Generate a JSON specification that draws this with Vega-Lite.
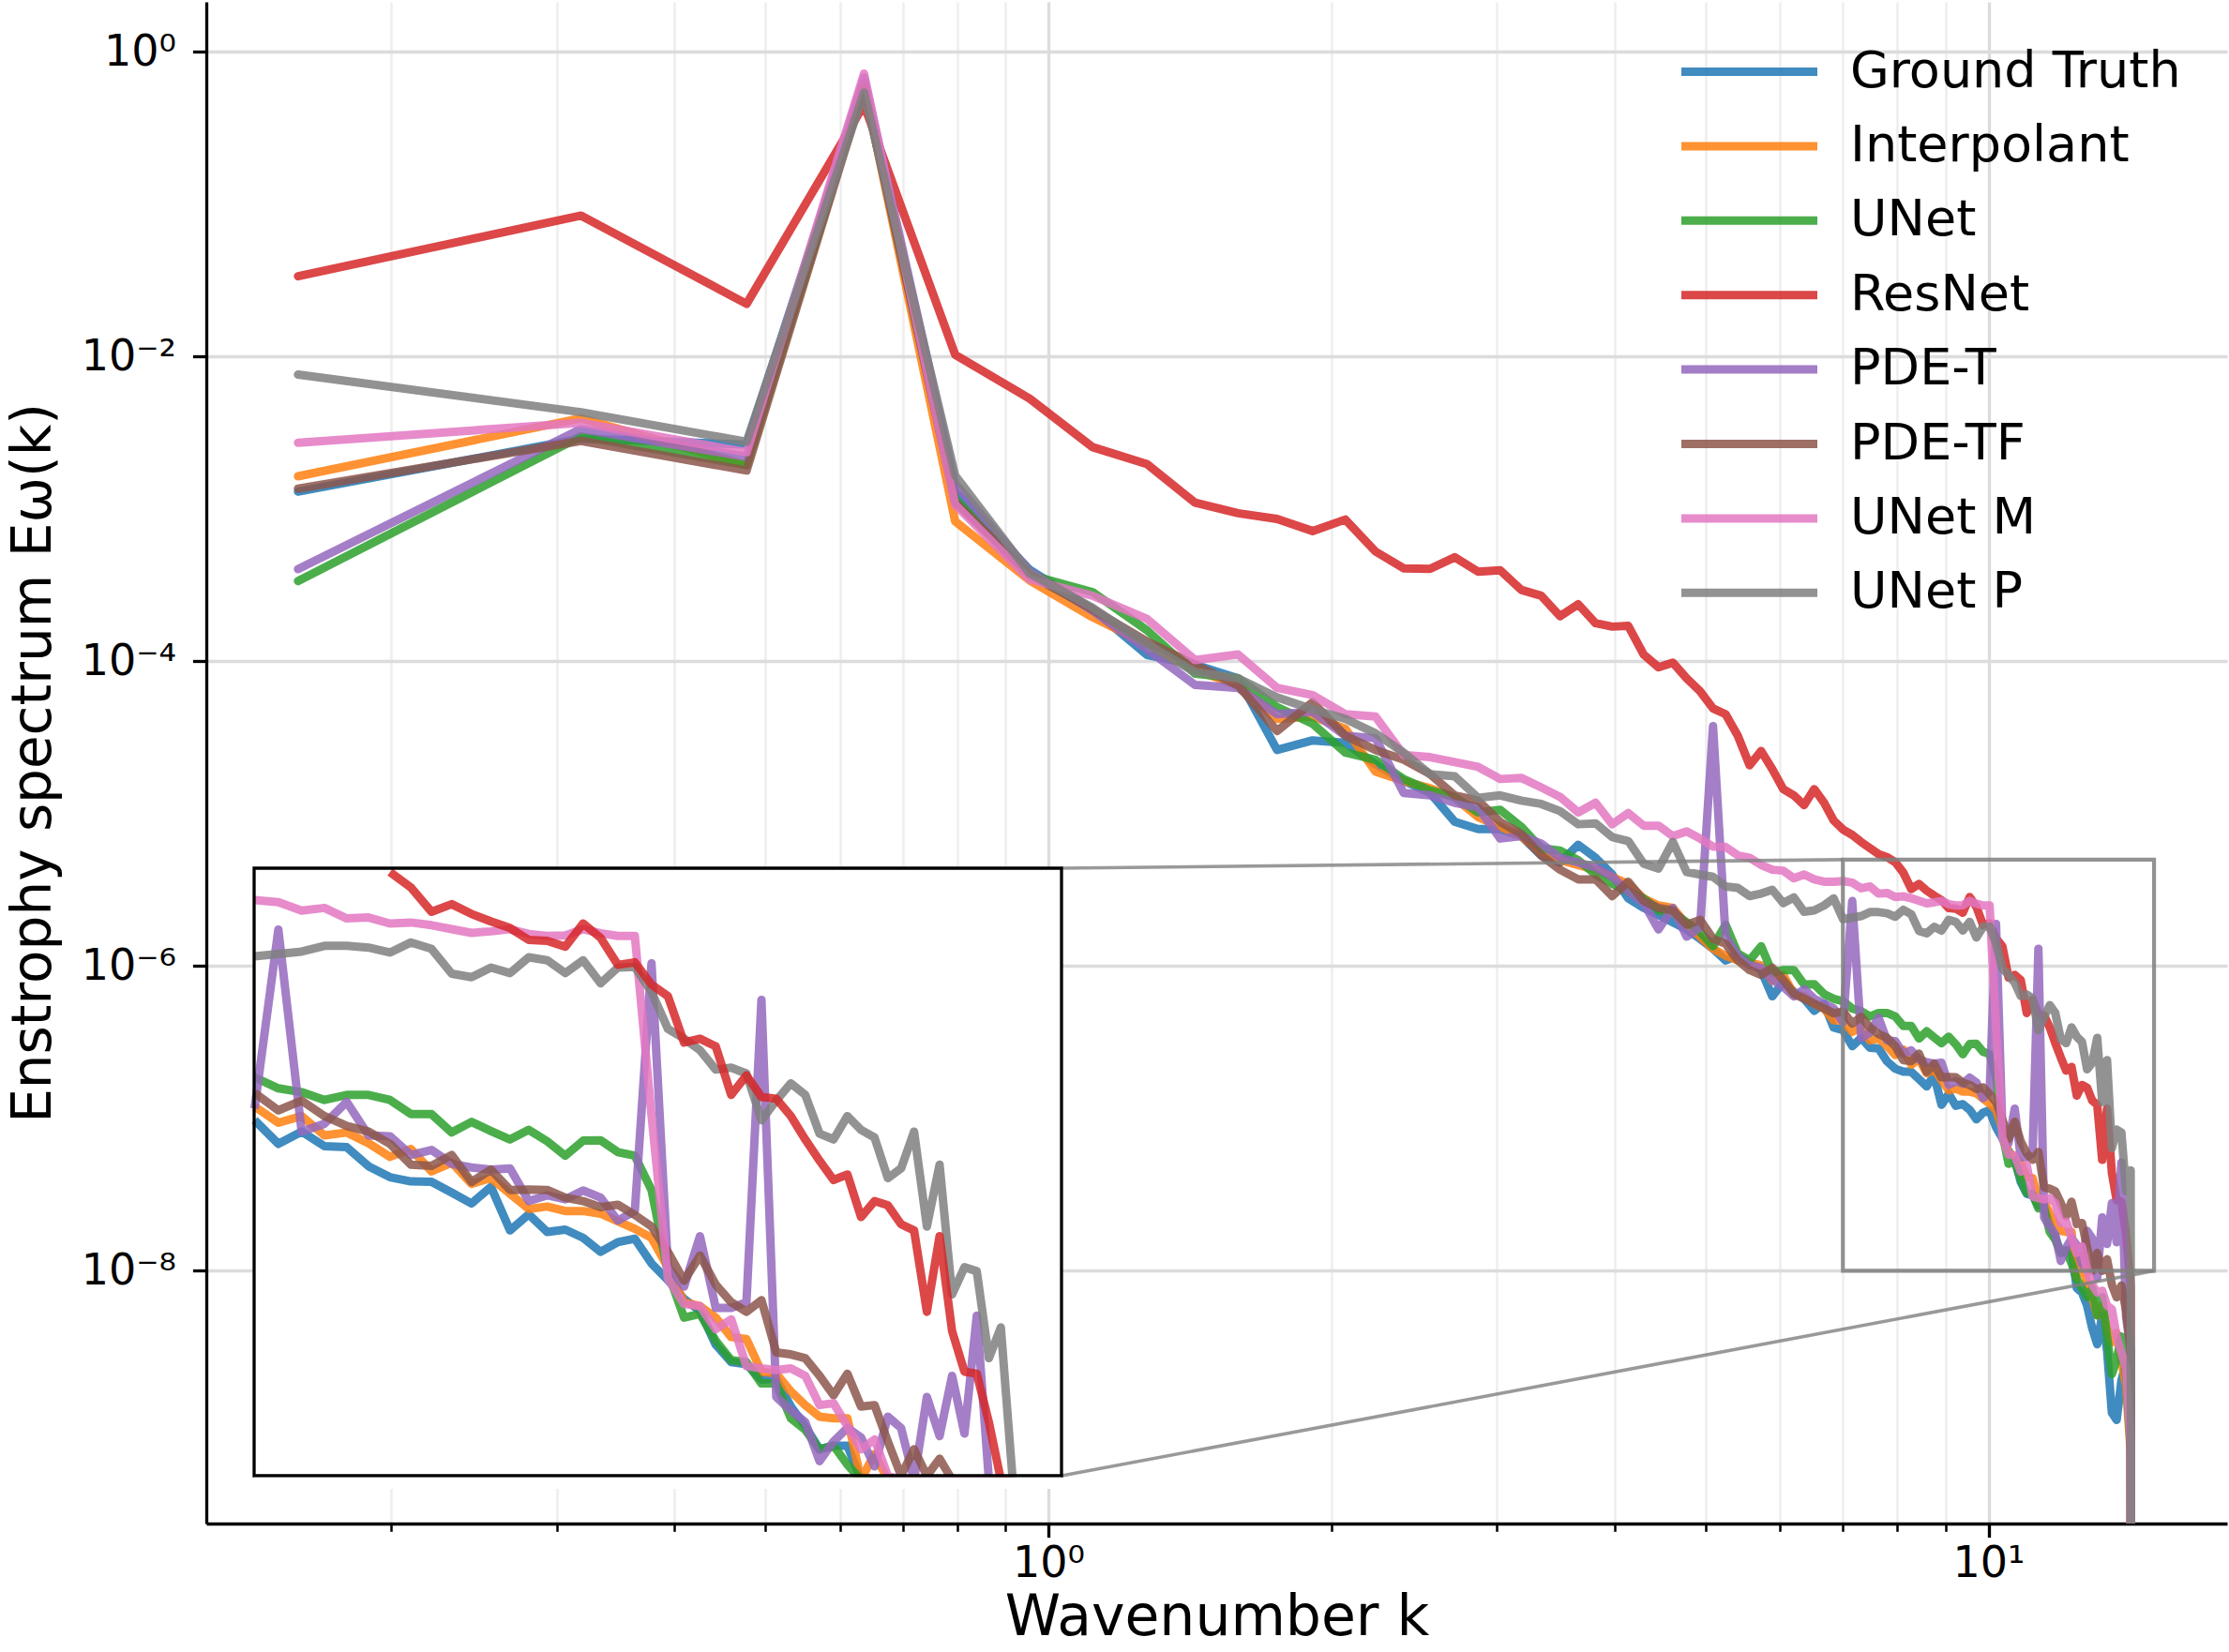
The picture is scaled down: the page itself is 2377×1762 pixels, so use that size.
{
"$schema": "https://vega.github.io/schema/vega-lite/v6.json",
"width": 2155, "height": 1623,
"autosize": {"type": "none"},
"padding": {"left": 220, "top": 2, "right": 2, "bottom": 137},
"background": "white",
"config": {"view": {"stroke": null}, "font": "DejaVu Sans"},
"datasets": {
"spec": [
{"k":0.15915,"Ground Truth":1.3e-3,"Interpolant":1.64e-3,"UNet":3.37e-4,"ResNet":0.0337,"PDE-T":4.03e-4,"PDE-TF":1.36e-3,"UNet M":2.72e-3,"UNet P":7.62e-3},
{"k":0.31831,"Ground Truth":2.9e-3,"Interpolant":3.94e-3,"UNet":3.0e-3,"ResNet":0.0843,"PDE-T":3.35e-3,"PDE-TF":2.8e-3,"UNet M":3.68e-3,"UNet P":4.32e-3},
{"k":0.47746,"Ground Truth":2.65e-3,"Interpolant":1.94e-3,"UNet":1.94e-3,"ResNet":0.0222,"PDE-T":2.2e-3,"PDE-TF":1.79e-3,"UNet M":2.36e-3,"UNet P":2.76e-3},
{"k":0.63662,"Ground Truth":0.63,"Interpolant":0.6,"UNet":0.6,"ResNet":0.45,"PDE-T":0.68,"PDE-TF":0.58,"UNet M":0.72,"UNet P":0.54},
{"k":0.79577,"Ground Truth":1.3e-3,"Interpolant":8.3e-4,"UNet":1.16e-3,"ResNet":0.0103,"PDE-T":1.47e-3,"PDE-TF":1.11e-3,"UNet M":1.07e-3,"UNet P":1.66e-3},
{"k":0.95493,"Ground Truth":4.0e-4,"Interpolant":3.4e-4,"UNet":3.7e-4,"ResNet":5.31e-3,"PDE-T":3.9e-4,"PDE-TF":3.7e-4,"UNet M":3.45e-4,"UNet P":3.8e-4},
{"k":1.1141,"Ground Truth":2.2e-4,"Interpolant":1.95e-4,"UNet":2.85e-4,"ResNet":2.55e-3,"PDE-T":2.15e-4,"PDE-TF":2.2e-4,"UNet M":2.7e-4,"UNet P":2.25e-4},
{"k":1.2732,"Ground Truth":1.1e-4,"Interpolant":1.3e-4,"UNet":1.6e-4,"ResNet":1.97e-3,"PDE-T":1.2e-4,"PDE-TF":1.35e-4,"UNet M":1.9e-4,"UNet P":1.3e-4},
{"k":1.4324,"Ground Truth":9.5e-5,"Interpolant":8.8e-5,"UNet":8.3e-5,"ResNet":1.1e-3,"PDE-T":7.0e-5,"PDE-TF":9.5e-5,"UNet M":1.02e-4,"UNet P":8.5e-5},
{"k":1.5915,"Ground Truth":7.74e-5,"Interpolant":6.95e-5,"UNet":7.74e-5,"ResNet":9.38e-4,"PDE-T":6.7e-5,"PDE-TF":6.95e-5,"UNet M":1.11e-4,"UNet P":7.74e-5},
{"k":1.7507,"Ground Truth":2.62e-5,"Interpolant":4.19e-5,"UNet":5.01e-5,"ResNet":8.6e-4,"PDE-T":4.5e-5,"PDE-TF":3.49e-5,"UNet M":6.7e-5,"UNet P":5.8e-5},
{"k":1.9099,"Ground Truth":3.03e-5,"Interpolant":4.34e-5,"UNet":3.9e-5,"ResNet":7.17e-4,"PDE-T":4.66e-5,"PDE-TF":5.4e-5,"UNet M":6.0e-5,"UNet P":4.84e-5},
{"k":2.069,"Ground Truth":2.92e-5,"Interpolant":3.62e-5,"UNet":2.52e-5,"ResNet":8.53e-4,"PDE-T":3.25e-5,"PDE-TF":3.25e-5,"UNet M":4.5e-5,"UNet P":4.19e-5},
{"k":2.2282,"Ground Truth":2.11e-5,"Interpolant":1.89e-5,"UNet":2.26e-5,"ResNet":5.26e-4,"PDE-T":3.13e-5,"PDE-TF":2.62e-5,"UNet M":4.34e-5,"UNet P":3.37e-5},
{"k":2.3873,"Ground Truth":1.64e-5,"Interpolant":1.64e-5,"UNet":1.69e-5,"ResNet":4.08e-4,"PDE-T":1.37e-5,"PDE-TF":2.26e-5,"UNet M":2.43e-5,"UNet P":2.52e-5},
{"k":2.5465,"Ground Truth":1.37e-5,"Interpolant":1.47e-5,"UNet":1.42e-5,"ResNet":4.05e-4,"PDE-T":1.32e-5,"PDE-TF":1.82e-5,"UNet M":2.35e-5,"UNet P":1.82e-5},
{"k":2.7056,"Ground Truth":8.85e-6,"Interpolant":1.27e-5,"UNet":1.29e-5,"ResNet":4.82e-4,"PDE-T":1.18e-5,"PDE-TF":1.32e-5,"UNet M":2.18e-5,"UNet P":1.76e-5},
{"k":2.8648,"Ground Truth":7.94e-6,"Interpolant":9.5e-6,"UNet":1.02e-5,"ResNet":3.88e-4,"PDE-T":1.1e-5,"PDE-TF":1.22e-5,"UNet M":2.03e-5,"UNet P":1.27e-5},
{"k":3.0239,"Ground Truth":7.94e-6,"Interpolant":8.23e-6,"UNet":1.06e-5,"ResNet":3.96e-4,"PDE-T":6.87e-6,"PDE-TF":8.85e-6,"UNet M":1.69e-5,"UNet P":1.32e-5},
{"k":3.1831,"Ground Truth":7.13e-6,"Interpolant":7.13e-6,"UNet":8.23e-6,"ResNet":2.95e-4,"PDE-T":7.13e-6,"PDE-TF":7.38e-6,"UNet M":1.72e-5,"UNet P":1.22e-5},
{"k":3.3423,"Ground Truth":5.33e-6,"Interpolant":5.53e-6,"UNet":5.94e-6,"ResNet":2.7e-4,"PDE-T":6.38e-6,"PDE-TF":5.33e-6,"UNet M":1.49e-5,"UNet P":1.16e-5},
{"k":3.5014,"Ground Truth":4.78e-6,"Interpolant":4.96e-6,"UNet":5.73e-6,"ResNet":1.98e-4,"PDE-T":5.14e-6,"PDE-TF":4.29e-6,"UNet M":1.29e-5,"UNet P":1.04e-5},
{"k":3.6606,"Ground Truth":6.25e-6,"Interpolant":4.61e-6,"UNet":4.96e-6,"ResNet":2.37e-4,"PDE-T":4.78e-6,"PDE-TF":3.71e-6,"UNet M":1.02e-5,"UNet P":8.53e-6},
{"k":3.8197,"Ground Truth":5.14e-6,"Interpolant":4.29e-6,"UNet":3.99e-6,"ResNet":1.78e-4,"PDE-T":4.45e-6,"PDE-TF":3.71e-6,"UNet M":1.18e-5,"UNet P":8.65e-6},
{"k":3.9789,"Ground Truth":3.99e-6,"Interpolant":3.85e-6,"UNet":3.46e-6,"ResNet":1.69e-4,"PDE-T":3.85e-6,"PDE-TF":2.88e-6,"UNet M":8.53e-6,"UNet P":7.02e-6},
{"k":4.138,"Ground Truth":2.78e-6,"Interpolant":3.46e-6,"UNet":3.1e-6,"ResNet":1.71e-4,"PDE-T":3.1e-6,"PDE-TF":3.58e-6,"UNet M":1.01e-5,"UNet P":6.62e-6},
{"k":4.2972,"Ground Truth":2.41e-6,"Interpolant":2.78e-6,"UNet":2.78e-6,"ResNet":1.11e-4,"PDE-T":2.59e-6,"PDE-TF":2.68e-6,"UNet M":8.35e-6,"UNet P":4.69e-6},
{"k":4.4563,"Ground Truth":2.16e-6,"Interpolant":2.5e-6,"UNet":2.32e-6,"ResNet":9.14e-5,"PDE-T":1.74e-6,"PDE-TF":2.41e-6,"UNet M":8.35e-6,"UNet P":4.36e-6},
{"k":4.6155,"Ground Truth":1.94e-6,"Interpolant":2.41e-6,"UNet":2.24e-6,"ResNet":9.82e-5,"PDE-T":2.41e-6,"PDE-TF":2.32e-6,"UNet M":7.13e-6,"UNet P":6.53e-6},
{"k":4.7746,"Ground Truth":1.74e-6,"Interpolant":1.87e-6,"UNet":1.94e-6,"ResNet":7.74e-5,"PDE-T":1.56e-6,"PDE-TF":1.87e-6,"UNet M":7.66e-6,"UNet P":4.14e-6},
{"k":4.9338,"Ground Truth":1.51e-6,"Interpolant":1.56e-6,"UNet":1.68e-6,"ResNet":6.37e-5,"PDE-T":1.8e-6,"PDE-TF":2.01e-6,"UNet M":6.87e-6,"UNet P":3.99e-6},
{"k":5.093,"Ground Truth":1.3e-6,"Interpolant":1.3e-6,"UNet":1.35e-6,"ResNet":4.91e-5,"PDE-T":3.76e-5,"PDE-TF":1.51e-6,"UNet M":6.08e-6,"UNet P":3.85e-6},
{"k":5.2521,"Ground Truth":1.09e-6,"Interpolant":1.17e-6,"UNet":1.87e-6,"ResNet":4.5e-5,"PDE-T":1.56e-6,"PDE-TF":1.4e-6,"UNet M":6.05e-6,"UNet P":3.33e-6},
{"k":5.4113,"Ground Truth":1.17e-6,"Interpolant":1.09e-6,"UNet":1.21e-6,"ResNet":3.25e-5,"PDE-T":1.17e-6,"PDE-TF":1.09e-6,"UNet M":5.33e-6,"UNet P":3.26e-6},
{"k":5.5704,"Ground Truth":1.05e-6,"Interpolant":1.05e-6,"UNet":1.09e-6,"ResNet":2.08e-5,"PDE-T":1.01e-6,"PDE-TF":9.41e-7,"UNet M":5.14e-6,"UNet P":2.88e-6},
{"k":5.7296,"Ground Truth":9.41e-7,"Interpolant":1.01e-6,"UNet":1.35e-6,"ResNet":2.58e-5,"PDE-T":9.75e-7,"PDE-TF":8.75e-7,"UNet M":4.61e-6,"UNet P":2.99e-6},
{"k":5.8887,"Ground Truth":6.33e-7,"Interpolant":8.02e-7,"UNet":9.08e-7,"ResNet":1.96e-5,"PDE-T":8.14e-7,"PDE-TF":9.75e-7,"UNet M":4.29e-6,"UNet P":3.17e-6},
{"k":6.0479,"Ground Truth":7.85e-7,"Interpolant":8.75e-7,"UNet":9.41e-7,"ResNet":1.45e-5,"PDE-T":7.31e-7,"PDE-TF":8.14e-7,"UNet M":4.23e-6,"UNet P":2.59e-6},
{"k":6.207,"Ground Truth":6.8e-7,"Interpolant":6.56e-7,"UNet":9.41e-7,"ResNet":1.32e-5,"PDE-T":6.33e-7,"PDE-TF":6.56e-7,"UNet M":3.77e-6,"UNet P":2.82e-6},
{"k":6.3662,"Ground Truth":6.1e-7,"Interpolant":6.33e-7,"UNet":7.57e-7,"ResNet":1.14e-5,"PDE-T":7.05e-7,"PDE-TF":6.1e-7,"UNet M":3.99e-6,"UNet P":2.27e-6},
{"k":6.5254,"Ground Truth":5.09e-7,"Interpolant":5.67e-7,"UNet":7.6e-7,"ResNet":1.45e-5,"PDE-T":6.1e-7,"PDE-TF":5.67e-7,"UNet M":3.71e-6,"UNet P":2.32e-6},
{"k":6.6845,"Ground Truth":5.67e-7,"Interpolant":5.27e-7,"UNet":6.56e-7,"ResNet":1.18e-5,"PDE-T":5.67e-7,"PDE-TF":5.27e-7,"UNet M":3.58e-6,"UNet P":2.5e-6},
{"k":6.8437,"Ground Truth":3.95e-7,"Interpolant":4.4e-7,"UNet":6.1e-7,"ResNet":9.03e-6,"PDE-T":5.27e-7,"PDE-TF":4.91e-7,"UNet M":3.58e-6,"UNet P":2.78e-6},
{"k":7.0028,"Ground Truth":3.8e-7,"Interpolant":4.37e-7,"UNet":5.89e-7,"ResNet":7.87e-6,"PDE-T":4.28e-7,"PDE-TF":5.02e-7,"UNet M":3.61e-6,"UNet P":2.03e-6},
{"k":7.162,"Ground Truth":2.98e-7,"Interpolant":3.7e-7,"UNet":5.26e-7,"ResNet":7.26e-6,"PDE-T":2.67e-6,"PDE-TF":4.2e-7,"UNet M":3.53e-6,"UNet P":2.08e-6},
{"k":7.3211,"Ground Truth":3.38e-7,"Interpolant":3.96e-7,"UNet":5.06e-7,"ResNet":6.52e-6,"PDE-T":3.38e-7,"PDE-TF":4.64e-7,"UNet M":3.24e-6,"UNet P":2.13e-6},
{"k":7.4803,"Ground Truth":2.91e-7,"Interpolant":3.25e-7,"UNet":4.67e-7,"ResNet":5.94e-6,"PDE-T":3.66e-7,"PDE-TF":3.96e-7,"UNet M":3.33e-6,"UNet P":2.26e-6},
{"k":7.6394,"Ground Truth":2.88e-7,"Interpolant":3.35e-7,"UNet":4.92e-7,"ResNet":5.43e-6,"PDE-T":4.58e-7,"PDE-TF":3.58e-7,"UNet M":2.99e-6,"UNet P":2.26e-6},
{"k":7.7986,"Ground Truth":2.37e-7,"Interpolant":3.0e-7,"UNet":4.92e-7,"ResNet":5.19e-6,"PDE-T":3.25e-7,"PDE-TF":3.38e-7,"UNet M":3.02e-6,"UNet P":2.22e-6},
{"k":7.9577,"Ground Truth":2.12e-7,"Interpolant":2.61e-7,"UNet":4.67e-7,"ResNet":4.81e-6,"PDE-T":3.22e-7,"PDE-TF":2.98e-7,"UNet M":2.84e-6,"UNet P":2.11e-6},
{"k":8.1169,"Ground Truth":2.03e-7,"Interpolant":2.83e-7,"UNet":4.04e-7,"ResNet":4.1e-6,"PDE-T":2.66e-7,"PDE-TF":2.41e-7,"UNet M":2.87e-6,"UNet P":2.34e-6},
{"k":8.2761,"Ground Truth":2.02e-7,"Interpolant":2.25e-7,"UNet":4.04e-7,"ResNet":3.2e-6,"PDE-T":2.8e-7,"PDE-TF":2.38e-7,"UNet M":2.79e-6,"UNet P":2.19e-6},
{"k":8.4352,"Ground Truth":1.81e-7,"Interpolant":2.46e-7,"UNet":3.35e-7,"ResNet":3.46e-6,"PDE-T":2.43e-7,"PDE-TF":2.66e-7,"UNet M":2.68e-6,"UNet P":1.7e-6},
{"k":8.5944,"Ground Truth":1.62e-7,"Interpolant":1.98e-7,"UNet":3.73e-7,"ResNet":3.13e-6,"PDE-T":2.34e-7,"PDE-TF":2.02e-7,"UNet M":2.58e-6,"UNet P":1.64e-6},
{"k":8.7535,"Ground Truth":1.92e-7,"Interpolant":2.1e-7,"UNet":3.4e-7,"ResNet":2.9e-6,"PDE-T":2.29e-7,"PDE-TF":2.29e-7,"UNet M":2.62e-6,"UNet P":1.81e-6},
{"k":8.9127,"Ground Truth":1.23e-7,"Interpolant":1.79e-7,"UNet":3.12e-7,"ResNet":2.71e-6,"PDE-T":2.32e-7,"PDE-TF":1.86e-7,"UNet M":2.68e-6,"UNet P":1.71e-6},
{"k":9.0718,"Ground Truth":1.45e-7,"Interpolant":1.53e-7,"UNet":3.44e-7,"ResNet":2.4e-6,"PDE-T":1.66e-7,"PDE-TF":1.87e-7,"UNet M":2.55e-6,"UNet P":2.01e-6},
{"k":9.231,"Ground Truth":1.21e-7,"Interpolant":1.57e-7,"UNet":3.06e-7,"ResNet":2.38e-6,"PDE-T":1.76e-7,"PDE-TF":1.86e-7,"UNet M":2.5e-6,"UNet P":1.95e-6},
{"k":9.3901,"Ground Truth":1.24e-7,"Interpolant":1.5e-7,"UNet":2.64e-7,"ResNet":2.24e-6,"PDE-T":1.69e-7,"PDE-TF":1.72e-7,"UNet M":2.51e-6,"UNet P":1.71e-6},
{"k":9.5493,"Ground Truth":1.14e-7,"Interpolant":1.5e-7,"UNet":3.08e-7,"ResNet":2.84e-6,"PDE-T":1.85e-7,"PDE-TF":1.66e-7,"UNet M":2.68e-6,"UNet P":1.95e-6},
{"k":9.7085,"Ground Truth":9.88e-8,"Interpolant":1.46e-7,"UNet":3.09e-7,"ResNet":2.45e-6,"PDE-T":1.72e-7,"PDE-TF":1.56e-7,"UNet M":2.57e-6,"UNet P":1.54e-6},
{"k":9.8676,"Ground Truth":1.09e-7,"Interpolant":1.35e-7,"UNet":2.74e-7,"ResNet":1.86e-6,"PDE-T":1.36e-7,"PDE-TF":1.6e-7,"UNet M":2.5e-6,"UNet P":1.81e-6},
{"k":10.027,"Ground Truth":1.13e-7,"Interpolant":1.25e-7,"UNet":2.64e-7,"ResNet":1.91e-6,"PDE-T":1.5e-7,"PDE-TF":1.44e-7,"UNet M":2.5e-6,"UNet P":1.82e-6},
{"k":10.186,"Ground Truth":8.77e-8,"Interpolant":1.14e-7,"UNet":1.86e-7,"ResNet":1.52e-6,"PDE-T":1.89e-6,"PDE-TF":1.28e-7,"UNet M":4.0e-7,"UNet P":1.41e-6},
{"k":10.345,"Ground Truth":7.4e-8,"Interpolant":8.43e-8,"UNet":8.0e-8,"ResNet":1.35e-6,"PDE-T":8.43e-8,"PDE-TF":9.88e-8,"UNet M":7.5e-8,"UNet P":9.66e-7},
{"k":10.504,"Ground Truth":6.1e-8,"Interpolant":5.9e-8,"UNet":5.04e-8,"ResNet":8.4e-7,"PDE-T":6.92e-8,"PDE-TF":7.35e-8,"UNet M":5.79e-8,"UNet P":8.75e-7},
{"k":10.663,"Ground Truth":5.4e-8,"Interpolant":5.67e-8,"UNet":5.24e-8,"ResNet":8.74e-7,"PDE-T":1.16e-7,"PDE-TF":9.51e-8,"UNet M":5.67e-8,"UNet P":7.77e-7},
{"k":10.823,"Ground Truth":3.82e-8,"Interpolant":5.04e-8,"UNet":3.98e-8,"ResNet":8.08e-7,"PDE-T":5.56e-8,"PDE-TF":7.06e-8,"UNet M":4.48e-8,"UNet P":6.37e-7},
{"k":10.982,"Ground Truth":3.2e-8,"Interpolant":4.13e-8,"UNet":3.26e-8,"ResNet":4.92e-7,"PDE-T":5.56e-8,"PDE-TF":5.9e-8,"UNet M":4.95e-8,"UNet P":6.5e-7},
{"k":11.141,"Ground Truth":3.13e-8,"Interpolant":4.05e-8,"UNet":3.2e-8,"ResNet":6.0e-7,"PDE-T":5.9e-8,"PDE-TF":5.35e-8,"UNet M":3.07e-8,"UNet P":6.12e-7},
{"k":11.3,"Ground Truth":2.67e-8,"Interpolant":2.9e-8,"UNet":2.57e-8,"ResNet":4.82e-7,"PDE-T":1.3e-6,"PDE-TF":6.02e-8,"UNet M":3.0e-8,"UNet P":3.8e-7},
{"k":11.459,"Ground Truth":2.7e-8,"Interpolant":2.84e-8,"UNet":2.57e-8,"ResNet":4.73e-7,"PDE-T":2.24e-8,"PDE-TF":3.53e-8,"UNet M":2.95e-8,"UNet P":4.64e-7},
{"k":11.618,"Ground Truth":2.03e-8,"Interpolant":2.37e-8,"UNet":1.8e-8,"ResNet":3.96e-7,"PDE-T":1.95e-8,"PDE-TF":3.46e-8,"UNet M":3.0e-8,"UNet P":5.54e-7},
{"k":11.777,"Ground Truth":1.66e-8,"Interpolant":2.06e-8,"UNet":1.6e-8,"ResNet":3.12e-7,"PDE-T":1.73e-8,"PDE-TF":3.33e-8,"UNet M":2.78e-8,"UNet P":4.92e-7},
{"k":11.937,"Ground Truth":1.31e-8,"Interpolant":1.83e-8,"UNet":1.31e-8,"ResNet":2.51e-7,"PDE-T":1.16e-8,"PDE-TF":2.78e-8,"UNet M":2.06e-8,"UNet P":3.31e-7},
{"k":12.096,"Ground Truth":1.36e-8,"Interpolant":1.8e-8,"UNet":1.36e-8,"ResNet":2.06e-7,"PDE-T":1.42e-8,"PDE-TF":2.28e-8,"UNet M":2.1e-8,"UNet P":3.12e-7},
{"k":12.255,"Ground Truth":1.36e-8,"Interpolant":1.8e-8,"UNet":1.12e-8,"ResNet":2.18e-7,"PDE-T":1.63e-8,"PDE-TF":2.84e-8,"UNet M":1.66e-8,"UNet P":3.96e-7},
{"k":12.414,"Ground Truth":7.7e-9,"Interpolant":9.0e-9,"UNet":8.8e-9,"ResNet":1.41e-7,"PDE-T":1.48e-8,"PDE-TF":2.03e-8,"UNet M":1.31e-8,"UNet P":3.44e-7},
{"k":12.573,"Ground Truth":7.2e-9,"Interpolant":1.25e-8,"UNet":7.7e-9,"ResNet":1.66e-7,"PDE-T":1.1e-8,"PDE-TF":2.06e-8,"UNet M":1.45e-8,"UNet P":3.18e-7},
{"k":12.732,"Ground Truth":5.9e-9,"Interpolant":8.0e-9,"UNet":6.7e-9,"ResNet":1.59e-7,"PDE-T":1.83e-8,"PDE-TF":1.42e-8,"UNet M":1.0e-8,"UNet P":2.1e-7},
{"k":12.892,"Ground Truth":4.2e-9,"Interpolant":6.7e-9,"UNet":7.7e-9,"ResNet":1.31e-7,"PDE-T":1.63e-8,"PDE-TF":1.0e-8,"UNet M":8.1e-9,"UNet P":2.32e-7},
{"k":13.051,"Ground Truth":3.3e-9,"Interpolant":5.1e-9,"UNet":5.1e-9,"ResNet":1.23e-7,"PDE-T":9.0e-9,"PDE-TF":1.31e-8,"UNet M":7.2e-9,"UNet P":3.38e-7},
{"k":13.21,"Ground Truth":5.1e-9,"Interpolant":5.9e-9,"UNet":6.7e-9,"ResNet":5.35e-8,"PDE-T":2.24e-8,"PDE-TF":1.0e-8,"UNet M":7.4e-9,"UNet P":1.28e-7},
{"k":13.369,"Ground Truth":3.0e-9,"Interpolant":4.2e-9,"UNet":3.7e-9,"ResNet":1.16e-7,"PDE-T":1.5e-8,"PDE-TF":1.19e-8,"UNet M":5.9e-9,"UNet P":2.41e-7},
{"k":13.528,"Ground Truth":1.17e-9,"Interpolant":3.4e-9,"UNet":2.1e-9,"ResNet":4.39e-8,"PDE-T":2.78e-8,"PDE-TF":8.1e-9,"UNet M":5.6e-9,"UNet P":6.39e-8},
{"k":13.687,"Ground Truth":1.05e-9,"Interpolant":3.9e-9,"UNet":2.6e-9,"ResNet":2.9e-8,"PDE-T":1.54e-8,"PDE-TF":6.7e-9,"UNet M":3.7e-9,"UNet P":8.44e-8},
{"k":13.847,"Ground Truth":1.9e-9,"Interpolant":2.6e-9,"UNet":3.7e-9,"ResNet":2.84e-8,"PDE-T":5.14e-8,"PDE-TF":8.0e-9,"UNet M":2.9e-9,"UNet P":8.1e-8},
{"k":14.006,"Ground Truth":2.5e-9,"Interpolant":1.75e-9,"UNet":2.1e-9,"ResNet":1.73e-8,"PDE-T":5.0e-9,"PDE-TF":5.5e-9,"UNet M":2.3e-9,"UNet P":3.33e-8},
{"k":14.165,"Ground Truth":1.5e-9,"Interpolant":6.4e-10,"UNet":6.8e-10,"ResNet":8.0e-9,"PDE-T":3.0e-9,"PDE-TF":3.0e-9,"UNet M":7.4e-10,"UNet P":4.56e-8},
{"k":14.324,"Ground Truth":1e-40,"Interpolant":1e-40,"UNet":1e-40,"ResNet":1e-40,"PDE-T":1e-40,"PDE-TF":1e-40,"UNet M":1e-40,"UNet P":1e-40}
],
"box": [{"x1": 7, "x2": 15, "y1": 1e-8, "y2": 5e-6}],
"conn": [{"ax": 1.0327, "ay": 4.39e-6, "bx": 7, "by": 5e-6}, {"ax": 1.0327, "ay": 4.516e-10, "bx": 15, "by": 1e-8}],
"mask": [{"x1": 0.14289, "x2": 1.0327, "y1": 3.7e-10, "y2": 4.405e-10}]
},
"layer": [
{
"layer": [
{
"data": {"name": "spec"},
"transform": [{"fold": ["Ground Truth","Interpolant","UNet","ResNet","PDE-T","PDE-TF","UNet M","UNet P"], "as": ["series","E"]}],
"mark": {"type": "line", "strokeWidth": 9, "opacity": 0.85, "clip": true, "strokeJoin": "round", "strokeCap": "round"},
"encoding": {
"x": {"field": "k", "type": "quantitative",
"scale": {"type": "log", "domain": [0.12712, 17.94], "nice": false},
"axis": {"values": [0.2,0.3,0.4,0.5,0.6,0.7,0.8,0.9,1,2,3,4,5,6,7,8,9,10],
"labelExpr": "datum.value == 1 ? '10⁰' : (datum.value == 10 ? '10¹' : '')",
"title": "Wavenumber k", "grid": true,
"gridColor": {"condition": {"test": "datum.value == 1 || datum.value == 10", "value": "#dcdcdc"}, "value": "#eeeeee"},
"gridWidth": {"condition": {"test": "datum.value == 1 || datum.value == 10", "value": 3.3}, "value": 2.5},
"tickSize": {"condition": {"test": "datum.value == 1 || datum.value == 10", "value": 14.6}, "value": 8.3},
"tickWidth": {"condition": {"test": "datum.value == 1 || datum.value == 10", "value": 3.3}, "value": 2.5},
"tickColor": "black", "domainColor": "black", "domainWidth": 3.3,
"labelFont": "DejaVu Sans", "labelFontSize": 46, "labelColor": "black", "labelPadding": 6,
"labelFlush": false, "labelOverlap": false,
"titleFont": "DejaVu Sans", "titleFontSize": 60, "titleFontWeight": "normal", "titleColor": "black", "titlePadding": 6}},
"y": {"field": "E", "type": "quantitative",
"scale": {"type": "log", "domain": [2.193e-10, 2.131], "nice": false},
"axis": {"values": [1, 0.01, 0.0001, 0.000001, 1e-8],
"labelExpr": "datum.value > 0.5 ? '10⁰' : (datum.value > 0.005 ? '10⁻²' : (datum.value > 0.00005 ? '10⁻⁴' : (datum.value > 5e-7 ? '10⁻⁶' : '10⁻⁸')))",
"title": "Enstrophy spectrum Eω(k)", "grid": true, "gridColor": "#dcdcdc", "gridWidth": 3.3,
"tickSize": 14.6, "tickWidth": 3.3, "tickColor": "black", "domainColor": "black", "domainWidth": 3.3,
"labelFont": "DejaVu Sans", "labelFontSize": 46, "labelColor": "black", "labelPadding": 18,
"labelFlush": false, "labelOverlap": false,
"titleFont": "DejaVu Sans", "titleFontSize": 58, "titleFontWeight": "normal", "titleColor": "black", "titlePadding": 21}},
"color": {"field": "series", "type": "nominal",
"scale": {"domain": ["Ground Truth","Interpolant","UNet","ResNet","PDE-T","PDE-TF","UNet M","UNet P"],
"range": ["#1f77b4","#ff7f0e","#2ca02c","#d62728","#9467bd","#8c564b","#e377c2","#7f7f7f"]},
"legend": {"orient": "none", "legendX": 1612, "legendY": 41, "title": null,
"symbolType": "M-2.5,0H2.5", "symbolSize": 3364, "symbolStrokeWidth": 9,
"labelFont": "DejaVu Sans", "labelFontSize": 54, "labelColor": "black",
"labelOffset": 74, "labelLimit": 1000, "rowPadding": 18.4, "padding": 0, "symbolOffset": 0}}
}
},
{
"data": {"name": "box"},
"mark": {"type": "rect", "fill": null, "fillOpacity": 0, "stroke": "#7f7f7f", "strokeWidth": 4.2, "strokeOpacity": 0.85},
"encoding": {"x": {"field": "x1", "type": "quantitative"}, "x2": {"field": "x2"}, "y": {"field": "y1", "type": "quantitative"}, "y2": {"field": "y2"}}
},
{
"data": {"name": "conn"},
"mark": {"type": "rule", "stroke": "#7f7f7f", "strokeWidth": 3.6, "strokeOpacity": 0.8},
"encoding": {"x": {"field": "ax", "type": "quantitative"}, "y": {"field": "ay", "type": "quantitative"}, "x2": {"field": "bx"}, "y2": {"field": "by"}}
}
]
},
{
"layer": [
{
"data": {"name": "box"},
"mark": {"type": "rect", "fill": "white", "stroke": null},
"encoding": {
"x": {"field": "x1", "type": "quantitative", "scale": {"type": "log", "domain": [7, 15], "range": [51, 912], "nice": false, "clamp": true}, "axis": null},
"x2": {"field": "x2"},
"y": {"field": "y1", "type": "quantitative", "scale": {"type": "log", "domain": [9.605e-9, 5e-6], "range": [1576.2, 924], "nice": false, "clamp": true}, "axis": null},
"y2": {"field": "y2"}}
},
{
"data": {"name": "spec"},
"transform": [{"filter": "datum.k >= 7"}, {"fold": ["Ground Truth","Interpolant","UNet","ResNet","PDE-T","PDE-TF","UNet M","UNet P"], "as": ["series","E"]}, {"filter": "datum.E <= 5e-6"}],
"mark": {"type": "line", "strokeWidth": 9, "opacity": 0.85, "strokeJoin": "round", "strokeCap": "butt"},
"encoding": {
"x": {"field": "k", "type": "quantitative", "axis": null},
"y": {"field": "E", "type": "quantitative", "axis": null},
"color": {"field": "series", "type": "nominal", "legend": null}}
},
{
"data": {"name": "box"},
"mark": {"type": "rect", "fill": null, "fillOpacity": 0, "stroke": "black", "strokeWidth": 3.3},
"encoding": {"x": {"field": "x1", "type": "quantitative", "axis": null}, "x2": {"field": "x2"}, "y": {"field": "y1", "type": "quantitative", "axis": null}, "y2": {"field": "y2"}}
}
]
},
{
"data": {"name": "mask"},
"mark": {"type": "rect", "fill": "white", "stroke": null},
"encoding": {
"x": {"field": "x1", "type": "quantitative", "scale": {"type": "log", "domain": [0.12712, 17.94], "nice": false}, "axis": null},
"x2": {"field": "x2"},
"y": {"field": "y1", "type": "quantitative", "scale": {"type": "log", "domain": [2.193e-10, 2.131], "nice": false}, "axis": null},
"y2": {"field": "y2"}}
}
],
"resolve": {"scale": {"x": "independent", "y": "independent"}}
}
